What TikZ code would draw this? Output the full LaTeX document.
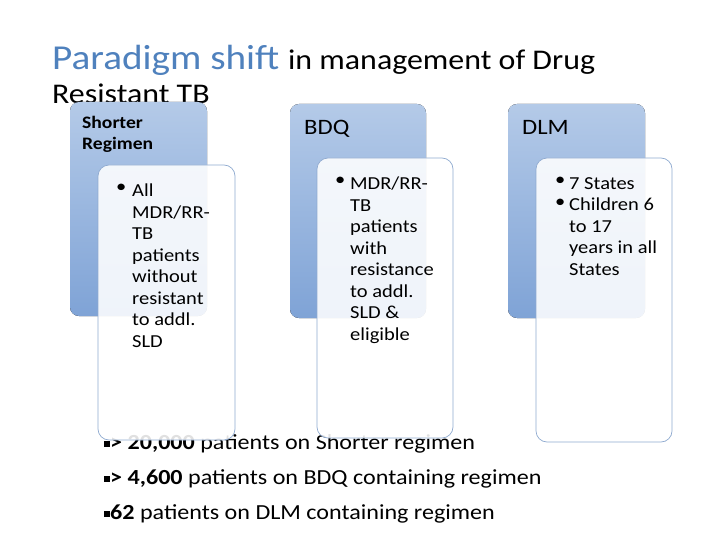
\documentclass[tikz,border=0pt]{standalone}
\usepackage{fontspec}
\setmainfont[FakeStretch=1.12]{Carlito}
\definecolor{ttl}{HTML}{4F81BD}
\definecolor{btop}{HTML}{B4CAE8}
\definecolor{bbot}{HTML}{7FA3D6}
\definecolor{edge}{HTML}{8FAAD0}
\begin{document}
\begin{tikzpicture}[x=1pt,y=-1pt,
 bluebox/.style={rounded corners=9pt,top color=btop,bottom color=bbot,draw=none},
 whitebox/.style={rounded corners=11pt,fill=white,fill opacity=0.88,draw=edge,line width=0.7pt},
 hd/.style={anchor=north west,inner sep=0pt,font=\fontsize{17.5}{21}\selectfont\bfseries},
 body/.style={anchor=north west,inner sep=0pt,align=left,font=\fontsize{18.3}{21.5}\selectfont},
 bl/.style={anchor=base west,inner sep=0pt,font=\fontsize{21.5}{22}\selectfont}]
\useasboundingbox (0,0) rectangle (720,540);
\node[anchor=base west,inner sep=0pt] (t1) at (52,70) {\fontsize{35}{36}\selectfont\color{ttl}Paradigm shift \color{black}\fontsize{28.5}{30}\selectfont in management of Drug};
\node[anchor=base west,inner sep=0pt] (t2) at (52,104) {\fontsize{28.5}{30}\selectfont Resistant TB};
\node[bl] (l1) at (104,449) {\rule[2pt]{6pt}{6pt}\textbf{> 20,000} patients on Shorter regimen};
\node[bl] (l2) at (104,484) {\rule[2pt]{6pt}{6pt}\textbf{> 4,600} patients on BDQ containing regimen};
\node[bl] (l3) at (104,519) {\rule[2pt]{6pt}{6pt}\textbf{62} patients on DLM containing regimen};
\fill[bluebox] (70,102) rectangle (207,316);
\fill[bluebox] (290,104) rectangle (426,318);
\fill[bluebox] (508,104) rectangle (645,318);
\node[hd,align=left] (h1) at (82,116) {Shorter\\Regimen};
\node[hd,font=\fontsize{22}{24}\selectfont] (h2) at (304,120) {BDQ};
\node[hd,font=\fontsize{22}{24}\selectfont] (h3) at (522,120) {DLM};
\draw[whitebox] (98,165) rectangle (235,440);
\draw[whitebox] (317,158) rectangle (453,438);
\draw[whitebox] (536,158) rectangle (672,442);
\node[body] (b1) at (132,184) {All\\MDR/RR-\\TB\\patients\\without\\resistant\\to addl.\\SLD};
\node[body] (d1) at (116,184) {•};
\node[body] (b2) at (350,177) {MDR/RR-\\TB\\patients\\with\\resistance\\to addl.\\SLD \&\\eligible};
\node[body] (d2) at (335,177) {•};
\node[body] (b3) at (569,177) {7 States\\Children 6\\to 17\\years in all\\States};
\node[body] (d3) at (555,177) {•\\•};
\end{tikzpicture}
\end{document}
